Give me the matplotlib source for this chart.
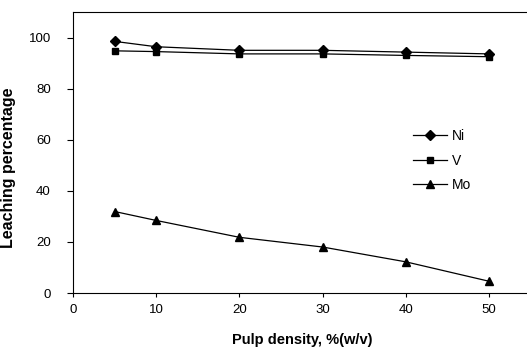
import matplotlib
matplotlib.use("Agg")
import matplotlib.pyplot as plt

pulp_density = [5, 10, 20, 30, 40, 50]
ni = [98.5, 96.4, 95.0, 95.0, 94.3, 93.6]
v = [94.8, 94.5, 93.6, 93.6, 93.0, 92.5]
mo = [31.9, 28.4, 21.8, 18.0, 12.2, 4.6]
x_ticks = [0, 10, 20, 30, 40, 50]
y_ticks = [0, 20, 40, 60, 80, 100]

plt.rcParams['font.family'] = ['Liberation Sans', 'DejaVu Sans']

fig = plt.figure(figsize=(5.27, 3.58), dpi=100)
W, H = 527, 358
left, right, top, bottom = 73, 530.6, 12, 293
ax = fig.add_axes([left / W, (H - bottom) / H, (right - left) / W, (bottom - top) / H])

ax.plot(pulp_density, ni, color='black', lw=0.9, marker='D', ms=5, label='Ni')
ax.plot(pulp_density, v, color='black', lw=0.9, marker='s', ms=5, label='V')
ax.plot(pulp_density, mo, color='black', lw=0.9, marker='^', ms=6, label='Mo')

ax.set_xlim(0, 55)
ax.set_ylim(0, 110)
ax.set_xticks(x_ticks)
ax.set_yticks(y_ticks)
ax.tick_params(axis='y', direction='out', length=4, width=0.8, pad=12, labelsize=9.5)
ax.tick_params(axis='x', direction='out', length=3, width=0.8, pad=5, labelsize=9.5)
for s in ax.spines.values():
    s.set_linewidth(0.8)

ax.set_xlabel('Pulp density, %(w/v)', fontsize=10.5, fontweight='bold', labelpad=12)
ax.set_ylabel('Leaching percentage', fontsize=11.5, fontweight='bold')
ax.yaxis.set_label_coords(-(73 - 16) / 457.6, (293 - 168) / 281)

ax.legend(loc='upper left', bbox_to_anchor=(0.715, 0.627), frameon=False,
          fontsize=10, handlelength=2.5, handletextpad=0.3, labelspacing=0.75)

fig.savefig('out.png', dpi=100)
